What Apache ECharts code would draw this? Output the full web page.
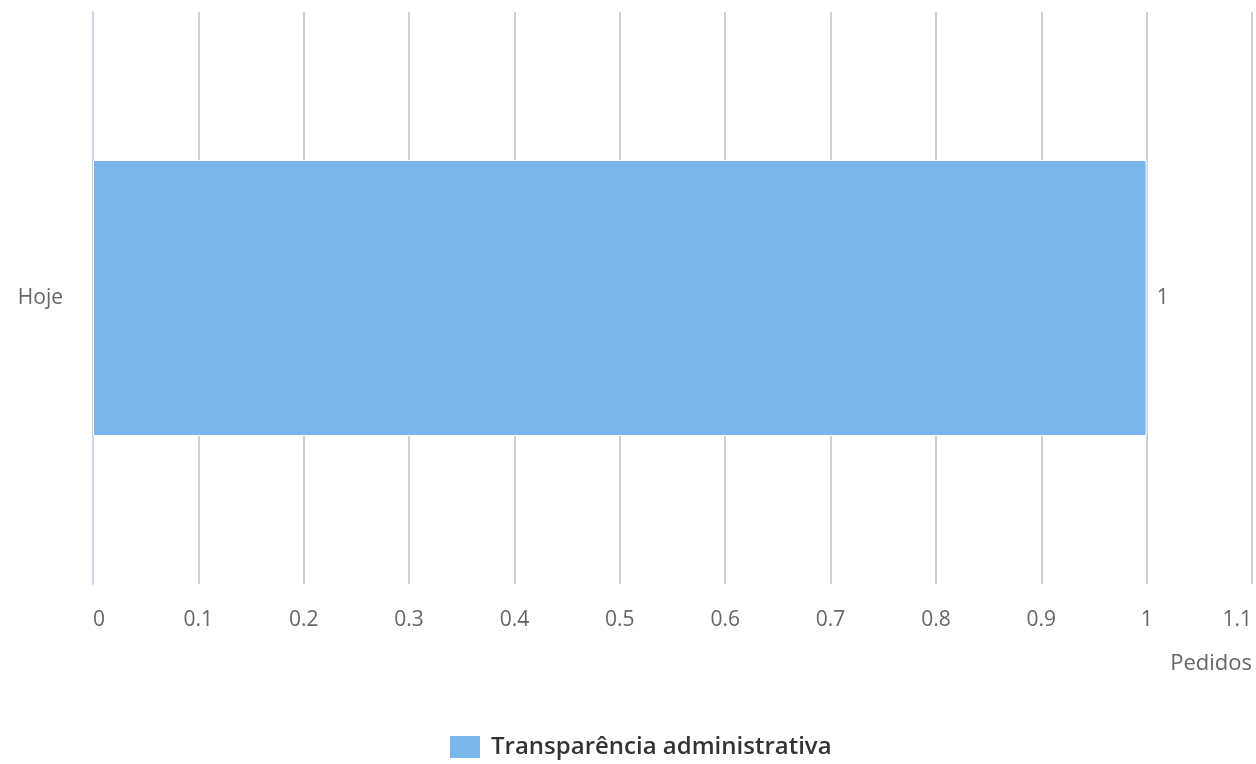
<!DOCTYPE html>
<html>
<head>
<meta charset="utf-8">
<script src="https://cdn.jsdelivr.net/npm/echarts@6/dist/echarts.min.js"></script>
<style>html,body{margin:0;padding:0;background:#fff}#c{width:1256px;height:764px}</style>
</head>
<body>
<div id="c"></div>
<script>
const categories = ['Hoje'];
const seriesName = 'Transparência administrativa';
const values = [1];
const axisName = 'Pedidos';

const chart = echarts.init(document.getElementById('c'));
chart.setOption({
  animation: false,
  grid: {left: 93, right: 4, top: 12, bottom: 180, containLabel: false, outerBoundsMode: 'none'},
  xAxis: {
    type: 'value', min: 0, max: 1.1, interval: 0.1,
    name: axisName, nameLocation: 'end', nameGap: 0,
    nameTextStyle: {fontFamily: 'Open Sans', fontSize: 22, color: '#666', align: 'right', verticalAlign: 'top', padding: [69, 0, 0, 0]},
    axisLine: {show: false}, axisTick: {show: false},
    axisLabel: {fontFamily: 'Open Sans', fontSize: 21, color: '#666', margin: 26,
      alignMinLabel: 'left', alignMaxLabel: 'right',
      formatter: v => String(+v.toFixed(1))},
    splitLine: {show: true, lineStyle: {color: '#cfcfcf', width: 2}}
  },
  yAxis: {
    type: 'category', data: categories,
    axisLine: {show: true, lineStyle: {color: '#ccd6eb', width: 2}},
    axisTick: {show: false},
    axisLabel: {fontFamily: 'Open Sans', fontSize: 21, color: '#666', margin: 30},
    splitLine: {show: false}
  },
  legend: {
    top: 734, left: 448, icon: 'rect', itemWidth: 32, itemHeight: 24, itemGap: 10, padding: 0,
    textStyle: {fontFamily: 'Open Sans', fontSize: 24, lineHeight: 24, fontWeight: 600, color: '#333', padding: [0, 0, 0, 5]}
  },
  series: [{
    type: 'bar', name: seriesName, data: values, barWidth: 276,
    itemStyle: {color: '#7cb5ec', borderColor: '#fff', borderWidth: 1},
    label: {show: true, position: 'right', distance: 10, fontFamily: 'Open Sans', fontSize: 21, color: '#666'}
  }]
});
</script>
</body>
</html>
